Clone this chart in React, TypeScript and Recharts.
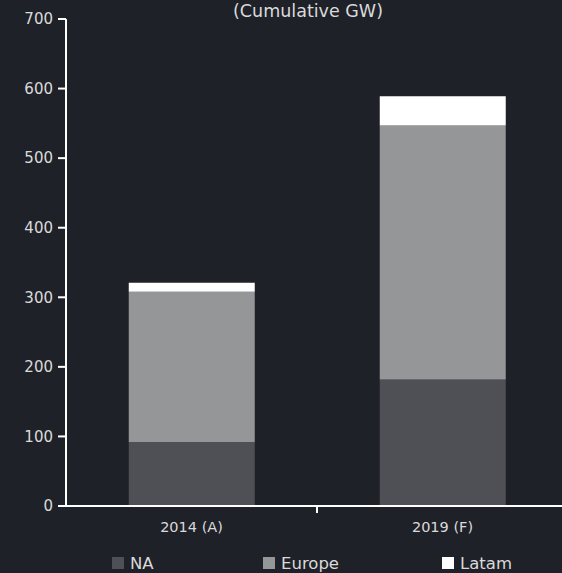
import React from 'react';
import { BarChart, Bar, XAxis, YAxis } from 'recharts';

const categories = ['2014 (A)', '2019 (F)'];
const naValues = [92, 182];
const europeValues = [216, 365];
const latamValues = [13, 42];
const yTicks = [0, 100, 200, 300, 400, 500, 600, 700];

const seriesNames = { na: 'NA', europe: 'Europe', latam: 'Latam' };
const colors = { na: '#4f5055', europe: '#959698', latam: '#ffffff' };

const BG = '#1f2129';
const TEXT = '#dadada';
const FONT = '"DejaVu Sans", sans-serif';

const CHART_W = 582;
const CHART_H = 573;
const MARGIN = { top: 19, right: 14, left: 0, bottom: 30 };
const Y_WIDTH = 66;
const HALF_BAND = (CHART_W - MARGIN.right - MARGIN.left - Y_WIDTH) / 4;

const data = categories.map((c, i) => ({
  name: c,
  na: naValues[i],
  europe: europeValues[i],
  latam: latamValues[i],
}));

const XTick = (props: any) => {
  const { x, y, payload, index } = props;
  return (
    <g>
      {index === 0 && (
        <line x1={x + HALF_BAND} x2={x + HALF_BAND} y1={y - 8} y2={y - 1} stroke="#ffffff" strokeWidth={2} />
      )}
      <text x={x} y={y + 18} textAnchor="middle" fill={TEXT} fontSize={14.5} fontFamily={FONT}>
        {payload.value}
      </text>
    </g>
  );
};

const legendItems = [
  { key: 'na', left: 112 },
  { key: 'europe', left: 263 },
  { key: 'latam', left: 442 },
] as const;

export default function App() {
  return (
    <div style={{ position: 'fixed', left: 0, top: 0, width: 562, height: 573, overflow: 'hidden', background: BG, fontFamily: FONT }}>
      <div style={{ position: 'absolute', left: 0, top: 0 }}>
        <BarChart width={CHART_W} height={CHART_H} data={data} margin={MARGIN} barCategoryGap="25%">
          <text x={308} y={17} textAnchor="middle" fill={TEXT} fontSize={17.5} fontFamily={FONT}>
            (Cumulative GW)
          </text>
          <XAxis
            dataKey="name"
            height={37}
            tick={<XTick />}
            tickLine={false}
            axisLine={{ stroke: '#ffffff', strokeWidth: 2 }}
            interval={0}
          />
          <YAxis
            width={Y_WIDTH}
            domain={[0, 700]}
            ticks={yTicks}
            tickSize={8}
            tickMargin={5}
            tick={{ fill: TEXT, fontSize: 15, fontFamily: FONT }}
            tickLine={{ stroke: '#ffffff', strokeWidth: 2 }}
            axisLine={{ stroke: '#ffffff', strokeWidth: 2 }}
          />
          <Bar dataKey="na" stackId="s" fill={colors.na} isAnimationActive={false} />
          <Bar dataKey="europe" stackId="s" fill={colors.europe} isAnimationActive={false} />
          <Bar dataKey="latam" stackId="s" fill={colors.latam} isAnimationActive={false} />
        </BarChart>
      </div>
      {legendItems.map(item => (
        <div
          key={item.key}
          style={{ position: 'absolute', left: item.left, top: 554, display: 'flex', alignItems: 'center', height: 18 }}
        >
          <span style={{ width: 12, height: 12, background: colors[item.key], display: 'inline-block', marginRight: 6 }} />
          <span style={{ color: TEXT, fontSize: 16.5 }}>{seriesNames[item.key]}</span>
        </div>
      ))}
    </div>
  );
}
